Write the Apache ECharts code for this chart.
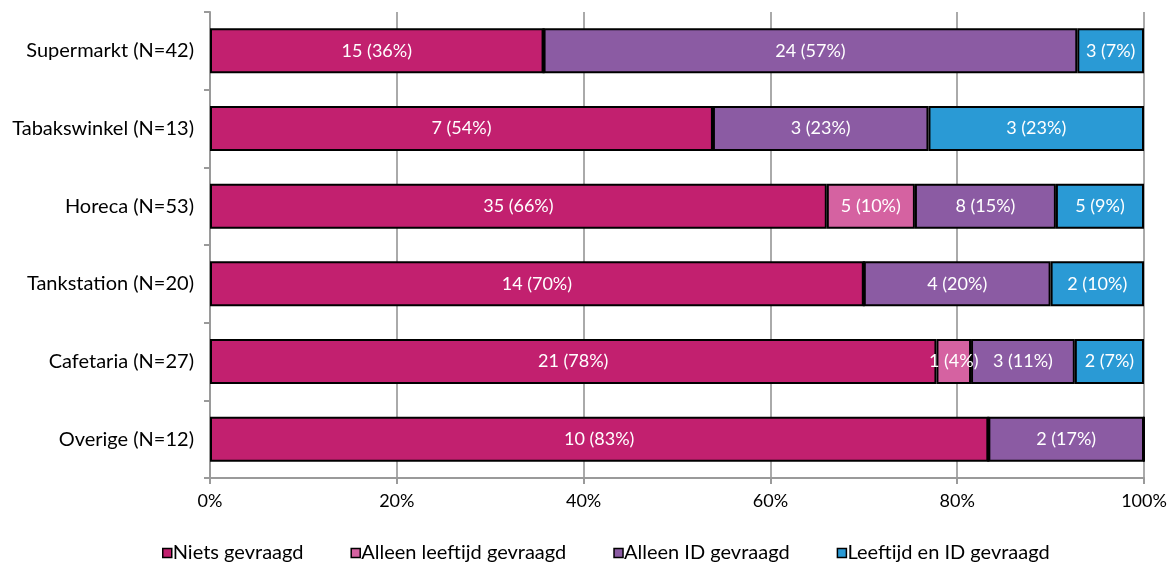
<!DOCTYPE html>
<html><head><meta charset="utf-8">
<script src="https://cdn.jsdelivr.net/npm/echarts@6/dist/echarts.min.js"></script>
<style>html,body{margin:0;padding:0;background:#fff}#c{width:1173px;height:569px}</style>
</head><body><div id="c"></div>
<script>
const categories = ["Supermarkt (N=42)","Tabakswinkel (N=13)","Horeca (N=53)","Tankstation (N=20)","Cafetaria (N=27)","Overige (N=12)"];
const totals = [42,13,53,20,27,12];
const seriesNames = ["Niets gevraagd","Alleen leeftijd gevraagd","Alleen ID gevraagd","Leeftijd en ID gevraagd"];
const nietsGevraagd = [15,7,35,14,21,10];
const alleenLeeftijd = [0,0,5,0,1,0];
const alleenID = [24,3,8,4,3,2];
const leeftijdEnID = [3,3,5,2,2,0];
// percentages as printed in the labels
const nietsPct = [36,54,66,70,78,83];
const leeftijdPct = [0,0,10,0,4,0];
const idPct = [57,23,15,20,11,17];
const beidePct = [7,23,9,10,7,0];
const xTicks = ["0%","20%","40%","60%","80%","100%"];
const colors = ["#C2206F","#D562A1","#8B5BA3","#2A9AD5"];

const counts = [nietsGevraagd, alleenLeeftijd, alleenID, leeftijdEnID];
const pcts = [nietsPct, leeftijdPct, idPct, beidePct];
const font = "Lato, 'Noto Sans', sans-serif";
const chart = echarts.init(document.getElementById('c'));
chart.setOption({
  animation:false,
  color: colors,
  textStyle:{fontFamily:font},
  grid:{left:210,right:29,top:12,bottom:91,containLabel:false},
  legend:{
    bottom:1, left:157, itemWidth:9, itemHeight:9, itemGap:47,
    icon:'rect',
    itemStyle:{borderColor:'#000',borderWidth:1.5},
    textStyle:{fontSize:20,color:'#000',fontFamily:font,padding:[0,0,0,-4]},
    data: seriesNames
  },
  xAxis:{
    type:'value', min:0, max:100, interval:20,
    axisLine:{show:true,lineStyle:{color:'#9a9a9a',width:2}},
    axisTick:{show:true,length:6,lineStyle:{color:'#9a9a9a',width:2}},
    splitLine:{show:true,lineStyle:{color:'#aaaaaa',width:2}},
    axisLabel:{fontSize:18,color:'#000',margin:14,formatter:(v)=>xTicks[v/20]}
  },
  yAxis:{
    type:'category', inverse:true, data:categories,
    axisLine:{show:true,lineStyle:{color:'#9a9a9a',width:2}},
    axisTick:{show:true,length:6,lineStyle:{color:'#9a9a9a',width:2}},
    axisLabel:{fontSize:20,color:'#000',margin:16}
  },
  series: seriesNames.map((name,si)=>({
    name, type:'bar', stack:'all', barCategoryGap:'42%',
    itemStyle:{borderColor:'#000',borderWidth:2},
    label:{
      show:true, position:'inside', color:'#fff', fontSize:18, fontFamily:font,
      formatter:(p)=>{const c=counts[si][p.dataIndex]; return c? c+' ('+pcts[si][p.dataIndex]+'%)' : '';}
    },
    data: counts[si].map((c,i)=>c/totals[i]*100)
  }))
});
</script></body></html>
